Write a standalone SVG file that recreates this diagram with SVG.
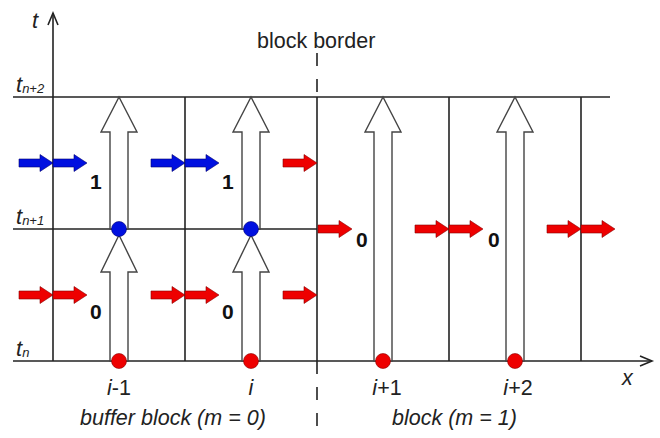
<svg xmlns="http://www.w3.org/2000/svg" width="660" height="438" viewBox="0 0 660 438">
<defs>
<style>
.grid{stroke:#222;stroke-width:1.6;fill:none}
.hollow{fill:#fff;stroke:#444;stroke-width:1.4}
.red{fill:#ee0000;stroke:#880000;stroke-width:0.6}
.blue{fill:#0010e0;stroke:#000070;stroke-width:0.6}
.lbl{font-family:"Liberation Sans",Arial,sans-serif;font-size:21.5px;fill:#222}
.it{font-style:italic}
.num{font-family:"Liberation Sans",Arial,sans-serif;font-size:21px;font-weight:bold;fill:#111}
.tl{font-size:22px}
.sub{font-size:13px}
</style>
<path id="fa" d="M0,-4 H21 V-8.5 L34,0 L21,8.5 V4 H0 Z"/>
</defs>

<g id="grid">
<line class="grid" x1="13" y1="97" x2="610" y2="97"/>
<line class="grid" x1="13" y1="229" x2="317" y2="229"/>
<line class="grid" x1="13" y1="361" x2="652" y2="361"/>
<line class="grid" x1="53" y1="361" x2="53" y2="13"/>
<polyline class="grid" points="48,25 53,13 58,25"/>
<polyline class="grid" points="640,356 652,361 640,366"/>
<line class="grid" x1="185" y1="97" x2="185" y2="361"/>
<line class="grid" x1="317" y1="97" x2="317" y2="361"/>
<line class="grid" x1="449" y1="97" x2="449" y2="361"/>
<line class="grid" x1="581" y1="97" x2="581" y2="361"/>
<line class="grid" x1="317" y1="53" x2="317" y2="97" stroke-dasharray="13 13"/>
<line class="grid" x1="317" y1="361" x2="317" y2="428" stroke-dasharray="13 13"/>
</g>

<g id="labels">
<text class="lbl it tl" x="32" y="28">t</text>
<text class="lbl" x="257" y="48">block border</text>
<text class="lbl it tl" x="16" y="92">t<tspan class="sub" dy="1">n+2</tspan></text>
<text class="lbl it tl" x="16" y="224">t<tspan class="sub" dy="1">n+1</tspan></text>
<text class="lbl it tl" x="16" y="356">t<tspan class="sub" dy="1">n</tspan></text>
<text class="lbl" x="119" y="395" text-anchor="middle"><tspan class="it">i</tspan>-1</text>
<text class="lbl it" x="251" y="395" text-anchor="middle">i</text>
<text class="lbl" x="387" y="395" text-anchor="middle"><tspan class="it">i</tspan>+1</text>
<text class="lbl" x="518" y="395" text-anchor="middle"><tspan class="it">i</tspan>+2</text>
<text class="lbl it" x="622" y="385">x</text>
<text class="lbl it" x="80" y="425">buffer block (m = 0)</text>
<text class="lbl it" x="392" y="425">block (m = 1)</text>
</g>

<g id="cell-i-1">
<path class="hollow" d="M110,229 V132 H101 L119,97 L137,132 H128 V229 Z"/>
<path class="hollow" d="M110,361 V272 H101 L119,235 L137,272 H128 V361 Z"/>
<circle class="blue" cx="119" cy="229" r="7.5"/>
<circle class="red" cx="119" cy="361" r="7.5"/>
<text class="num" x="90" y="189">1</text>
<text class="num" x="90" y="319">0</text>
</g>

<g id="cell-i">
<path class="hollow" d="M242,229 V132 H233 L251,97 L269,132 H260 V229 Z"/>
<path class="hollow" d="M242,361 V272 H233 L251,235 L269,272 H260 V361 Z"/>
<circle class="blue" cx="251" cy="229" r="7.5"/>
<circle class="red" cx="251" cy="361" r="7.5"/>
<text class="num" x="222" y="189">1</text>
<text class="num" x="222" y="319">0</text>
</g>

<g id="cell-i+1">
<path class="hollow" d="M374,361 V132 H365 L383,97 L401,132 H392 V361 Z"/>
<circle class="red" cx="383" cy="361" r="7.5"/>
<text class="num" x="356" y="247">0</text>
</g>

<g id="cell-i+2">
<path class="hollow" d="M506,361 V132 H497 L515,97 L533,132 H524 V361 Z"/>
<circle class="red" cx="515" cy="361" r="7.5"/>
<text class="num" x="488" y="247">0</text>
</g>

<g id="connectors">
<use href="#fa" class="blue" transform="translate(19,163)"/>
<use href="#fa" class="blue" transform="translate(53,163)"/>
<use href="#fa" class="blue" transform="translate(151,163)"/>
<use href="#fa" class="blue" transform="translate(185,163)"/>
<use href="#fa" class="red" transform="translate(283,163)"/>
<use href="#fa" class="red" transform="translate(19,295)"/>
<use href="#fa" class="red" transform="translate(53,295)"/>
<use href="#fa" class="red" transform="translate(151,295)"/>
<use href="#fa" class="red" transform="translate(185,295)"/>
<use href="#fa" class="red" transform="translate(283,295)"/>
<use href="#fa" class="red" transform="translate(318,229)"/>
<use href="#fa" class="red" transform="translate(415,229)"/>
<use href="#fa" class="red" transform="translate(449,229)"/>
<use href="#fa" class="red" transform="translate(547,229)"/>
<use href="#fa" class="red" transform="translate(581,229)"/>
</g>
</svg>
